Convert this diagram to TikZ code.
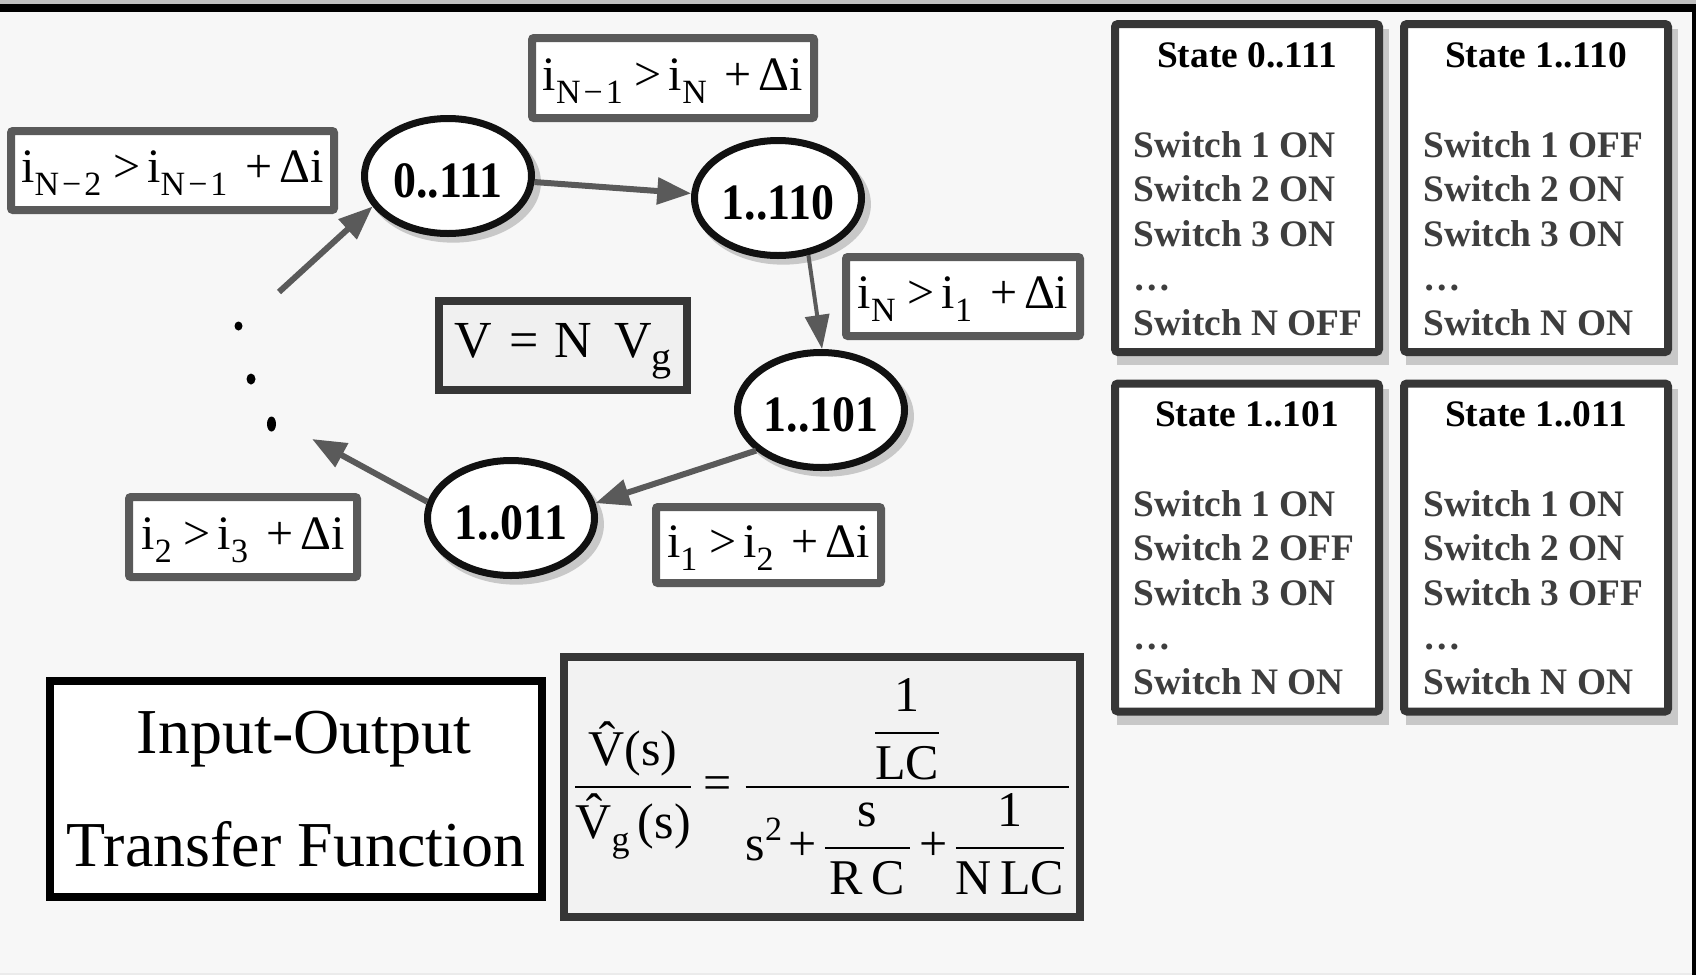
\documentclass[tikz,border=0pt]{standalone}
\usepackage{fontspec}
\usepackage{amsmath}
\setmainfont{Liberation Serif}
\newfontfamily\cndbf[FakeStretch=0.9]{Liberation Serif Bold}
\usetikzlibrary{arrows.meta,shapes.geometric,shadows,backgrounds}
\definecolor{bgc}{HTML}{F7F7F7}
\definecolor{arrc}{HTML}{5A5A5A}
\definecolor{condc}{HTML}{5A5A5A}
\definecolor{statec}{HTML}{363636}
\definecolor{ellc}{HTML}{111111}
\definecolor{shc}{HTML}{C8C8C8}
\definecolor{bodyc}{HTML}{3E3E3E}
\definecolor{vfill}{HTML}{F0F0F0}
\definecolor{ffill}{HTML}{F2F2F2}
\newcommand\lo[2][17]{\raisebox{-6.5pt}{\fontsize{#1}{#1}\selectfont #2}}
\newcommand\hi[2][17]{\raisebox{10pt}{\fontsize{#1}{#1}\selectfont #2}}
\newcommand\condtxt[2]{i\lo{#1}\hspace{6pt}>\hspace{3.5pt}i\lo{#2}\hspace{9pt}+\hspace{3.5pt}Δi}
\newcommand\mn{\hspace{1.5pt}−\hspace{1.5pt}}
\tikzset{
  stnode/.style={ellipse, draw=ellc, line width=3.5pt, fill=white,
    minimum width=83.5pt, minimum height=57.5pt, inner sep=0pt,
    font=\fontsize{25.5}{25.5}\cndbf, text height=21.5pt, text depth=0pt,
    drop shadow={shadow xshift=2.5pt, shadow yshift=-3pt, shadow scale=1.05, fill=shc, opacity=1}},
  condbox/.style={draw=condc, line width=4pt, fill=white, inner sep=0pt,
    rounded corners=1pt, font=\fontsize{24}{24}\selectfont, text height=18pt, text depth=6pt},
  sbox/.style={draw=statec, line width=4pt, fill=white, minimum width=132pt,
    minimum height=164pt, inner sep=0pt, rounded corners=1.5pt},
  stitle/.style={anchor=base, inner sep=0pt, font=\fontsize{18.7}{18.7}\bfseries\selectfont},
  sline/.style={anchor=base west, inner sep=0pt, text=bodyc, font=\fontsize{18.7}{18.7}\bfseries\selectfont},
  arr/.style={draw=arrc, line width=3pt, -{Triangle[length=17pt,width=13pt]}},
  arrthin/.style={draw=arrc, line width=2pt, -{Triangle[length=17pt,width=12pt]}},
}
\begin{document}
\begin{tikzpicture}[x=0.5pt,y=-0.5pt]
\useasboundingbox (0,0) rectangle (1696,975);
\begin{scope}[on background layer]
  \fill[bgc] (0,0) rectangle (1696,975);
\end{scope}

% state nodes
\node[stnode] (e0) at (448,176) {0..111};
\node[stnode] (e1) at (778,198) {1..110};
\node[stnode] (e2) at (821,410) {1..101};
\node[stnode] (e3) at (511,518) {1..011};

% condition boxes
\node[condbox, minimum width=141pt, minimum height=40pt] (c1) at (673,78) {\condtxt{N\mn1}{N}};
\node[condbox, minimum width=161.5pt, minimum height=39.5pt] (c2) at (172.5,170.5) {\condtxt{N\mn2}{N\mn1}};
\node[condbox, minimum width=117pt, minimum height=39.5pt] (c3) at (963,296.5) {\condtxt{N}{1}};
\node[condbox, minimum width=112.5pt, minimum height=38pt] (c4) at (768.5,545) {\condtxt{1}{2}};
\node[condbox, minimum width=114pt, minimum height=40pt] (c5) at (243,537) {\condtxt{2}{3}};
\node[draw=statec, fill=vfill, line width=4pt, inner sep=0pt, minimum width=124pt, minimum height=44.5pt,
  font=\fontsize{26}{26}\selectfont, text height=19pt, text depth=7.5pt] (vb) at (563,345.5)
  {V\hspace{9pt}=\hspace{8pt}N\hspace{11pt}V\lo[20]{g}};

% dots
\fill[black] (238.5,326) ellipse [x radius=4, y radius=4.5];
\fill[black] (251,379) ellipse [x radius=4.5, y radius=5.5];
\fill[black] (271.5,424) ellipse [x radius=4.5, y radius=7.5];

% arrows
\coordinate (from) at (279,292);
\coordinate (to) at (312,439);
\draw[arr] (from) -- (e0.202);
\draw[arr] (e0.-4) -- (e1.177);
\draw[arrthin] (e1.-62) -- (e2.89);
\draw[arr] (e2.212.6) -- (e3.10);
\draw[arr] (e3.169) -- (to);

% state boxes
\node[sbox] (s1) at (1247,188) {};
\node[sbox] (s2) at (1536,188) {};
\node[sbox] (s3) at (1247,547.5) {};
\node[sbox] (s4) at (1536,547.5) {};
\begin{scope}[on background layer]
  \foreach \s in {s1,s2,s3,s4}
    \fill[shc] ([xshift=3pt,yshift=-4.5pt]\s.north west) rectangle ([xshift=3pt,yshift=-4.5pt]\s.south east);
\end{scope}

\node[stitle] (t1) at (1247,67) {State 0..111};
\node[sline] (a1) at (1133.5,157) {Switch 1 ON};
\node[sline] (a2) at (1133.5,201.5) {Switch 2 ON};
\node[sline] (a3) at (1133.5,246) {Switch 3 ON};
\node[sline] (a4) at (1133.5,290.5) {…};
\node[sline] (a5) at (1133.5,335) {Switch N OFF};

\node[stitle] (t2) at (1536,67) {State 1..110};
\node[sline] (b1) at (1423,157) {Switch 1 OFF};
\node[sline] (b2) at (1423,201.5) {Switch 2 ON};
\node[sline] (b3) at (1423,246) {Switch 3 ON};
\node[sline] (b4) at (1423,290.5) {…};
\node[sline] (b5) at (1423,335) {Switch N ON};

\node[stitle] (t3) at (1247,426) {State 1..101};
\node[sline] (d1) at (1133.5,516) {Switch 1 ON};
\node[sline] (d2) at (1133.5,560.5) {Switch 2 OFF};
\node[sline] (d3) at (1133.5,605) {Switch 3 ON};
\node[sline] (d4) at (1133.5,649.5) {…};
\node[sline] (d5) at (1133.5,694) {Switch N ON};

\node[stitle] (t4) at (1536,426) {State 1..011};
\node[sline] (f1) at (1423,516) {Switch 1 ON};
\node[sline] (f2) at (1423,560.5) {Switch 2 ON};
\node[sline] (f3) at (1423,605) {Switch 3 OFF};
\node[sline] (f4) at (1423,649.5) {…};
\node[sline] (f5) at (1423,694) {Switch N ON};

% transfer function label
\node[draw=black, fill=white, line width=4pt, inner sep=0pt, minimum width=246pt, minimum height=108pt,
  align=center, font=\fontsize{32}{56.5}\selectfont] (tf) at (296,789)
  {\hspace*{8pt}Input-Output\\Transfer Function};

% formula
\node[draw=statec, fill=ffill, line width=4pt, inner sep=0pt, minimum width=258pt, minimum height=130pt,
  font=\fontsize{25}{25}\selectfont] (fm) at (822,787)
  {$\displaystyle
   \frac{\mbox{\hspace{1pt}V̂(s)\hspace{1pt}}}{\mbox{V̂\lo[18]{g}\,(s)}}
   \mbox{\hspace{5pt}=\hspace{6pt}}
   \frac{\dfrac{\mbox{1}}{\mbox{LC}}}
        {\mbox{s\hi{2}\hspace{3pt}+\hspace{3pt}}\dfrac{\mbox{\hspace{2.5pt}s\hspace{2.5pt}}}{\mbox{\hspace{2.5pt}R\,C\hspace{2.5pt}}}\mbox{\hspace{3.5pt}+\hspace{3pt}}\dfrac{\mbox{1}}{\mbox{N\,LC}}\mbox{\hspace{1pt}}}$};

% frame lines
\fill[black!25] (0,0) rectangle (1696,4);
\fill[black] (0,4) rectangle (1696,12);
\fill[black] (1692,4) rectangle (1696,975);
\fill[black!8] (0,973) rectangle (1692,975);
\end{tikzpicture}
\end{document}
